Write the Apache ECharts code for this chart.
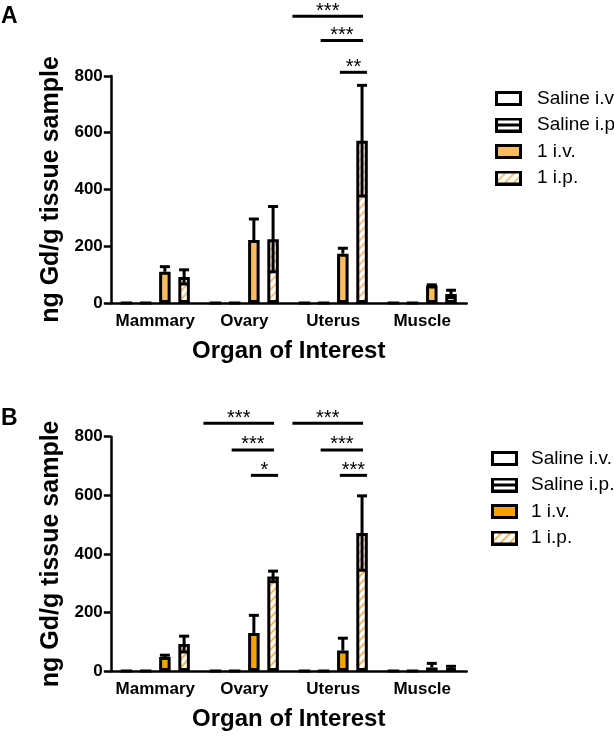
<!DOCTYPE html>
<html>
<head>
<meta charset="utf-8">
<script src="https://cdn.jsdelivr.net/npm/echarts@6/dist/echarts.min.js"></script>
<style>
html,body{margin:0;padding:0;background:#fff;}
#a,#b{width:614px;height:368px;}
</style>
</head>
<body>
<div id="a"></div>
<div id="b"></div>
<script>
// ---------- data ----------
const categories = ['Mammary', 'Ovary', 'Uterus', 'Muscle'];
const seriesNames = ['Saline i.v.', 'Saline i.p.', '1 i.v.', '1 i.p.'];
const yTicks = [0, 200, 400, 600, 800];
const xTitle = 'Organ of Interest';
const yTitle = 'ng Gd/g tissue sample';

// Panel A
const aSalineIV = [0, 0, 0, 0];
const aSalineIP = [0, 0, 0, 0];
const a1IV = [110, 222, 174, 62];
const a1IVErr = [18, 74, 19, 2];
const a1IP = [92, 225, 572, 32];
const a1IPErr = [25, 115, 195, 13];
// significance: [category, fromSeries, toSeries, height]
const aSig = [[2, 0, 3, 1011], [2, 1, 3, 925], [2, 2, 3, 813]];
const aSigLabels = ['***', '***', '**'];

// Panel B
const bSalineIV = [0, 0, 0, 0];
const bSalineIP = [0, 0, 0, 0];
const b1IV = [48, 130, 70, 12];
const b1IVErr = [6, 60, 42, 14];
const b1IP = [92, 323, 471, 10];
const b1IPErr = [27, 18, 127, 6];
const bSig = [[1, 0, 3, 846], [1, 1, 3, 755], [1, 2, 3, 668], [2, 0, 3, 846], [2, 1, 3, 755], [2, 2, 3, 668]];
const bSigLabels = ['***', '***', '*', '***', '***', '***'];

// ---------- styles ----------
const FONT = '"Liberation Sans", Arial, Helvetica, sans-serif';
const BAR_W = 11.5;
const BAR_GAP = 0.67;
const SPACING = BAR_W * (1 + BAR_GAP);

function hatchCanvas(color) {
  const c = document.createElement('canvas');
  c.width = 8; c.height = 8;
  const g = c.getContext('2d');
  g.fillStyle = '#fff'; g.fillRect(0, 0, 8, 8);
  g.strokeStyle = color; g.lineWidth = 2;
  g.beginPath();
  g.moveTo(-2, 10); g.lineTo(10, -2);
  g.moveTo(-6, 6); g.lineTo(6, -6);
  g.moveTo(2, 14); g.lineTo(14, 2);
  g.stroke();
  return c;
}

function iconURL(kind, fill, hatch) {
  const c = document.createElement('canvas');
  c.width = 27; c.height = 15;
  const g = c.getContext('2d');
  g.fillStyle = '#fff'; g.fillRect(0, 0, 27, 15);
  if (kind === 'solid') { g.fillStyle = fill; g.fillRect(0, 0, 27, 15); }
  if (kind === 'hatch') {
    g.strokeStyle = hatch; g.lineWidth = 2;
    g.beginPath();
    for (let x = -20; x < 40; x += 9) { g.moveTo(x, 15); g.lineTo(x + 15, 0); }
    g.stroke();
  }
  if (kind === 'stripe') { g.fillStyle = '#000'; g.fillRect(0, 6, 27, 3); }
  g.strokeStyle = '#000'; g.lineWidth = 3;
  g.strokeRect(1.5, 1.5, 24, 12);
  return 'image://' + c.toDataURL();
}

function buildOption(p) {
  const barColors = ['#ffffff', '#ffffff', p.fill, { image: hatchCanvas(p.hatch), repeat: 'repeat' }];
  const values = [p.salIV, p.salIP, p.iv, p.ip];
  const bars = values.map((v, i) => ({
    name: seriesNames[i],
    type: 'bar',
    barWidth: BAR_W,
    barGap: (BAR_GAP * 100) + '%',
    data: v,
    itemStyle: { color: barColors[i], borderColor: '#000', borderWidth: 3 },
    z: 2,
    animation: false
  }));
  const errData = [];
  categories.forEach((c, k) => {
    errData.push([k, p.iv[k], p.ivErr[k], 2, 0]);
    errData.push([k, p.ip[k], p.ipErr[k], 3, 1]);
  });
  const err = {
    type: 'custom',
    z: 5,
    animation: false,
    silent: true,
    data: errData,
    renderItem: function (params, api) {
      const cat = api.value(0), m = api.value(1), e = api.value(2), slot = api.value(3), both = api.value(4);
      const c = api.coord([cat, m]);
      const t = api.coord([cat, m + e]);
      const l = api.coord([cat, m - e]);
      const x = c[0] + (slot - 1.5) * SPACING;
      const style = { stroke: '#000', lineWidth: 3 };
      const kids = [
        { type: 'line', shape: { x1: x, y1: both ? l[1] : c[1], x2: x, y2: t[1] }, style },
        { type: 'line', shape: { x1: x - 5, y1: t[1], x2: x + 5, y2: t[1] }, style }
      ];
      if (both) kids.push({ type: 'line', shape: { x1: x - 5, y1: l[1], x2: x + 5, y2: l[1] }, style });
      return { type: 'group', children: kids };
    }
  };
  const sig = {
    type: 'custom',
    z: 5,
    animation: false,
    silent: true,
    clip: false,
    data: p.sig,
    renderItem: function (params, api) {
      const cat = api.value(0), from = api.value(1), to = api.value(2), h = api.value(3);
      const c = api.coord([cat, h]);
      const xf = c[0] + (from - 1.5) * SPACING - (from === 0 ? 12 : 3);
      const xt = c[0] + (to - 1.5) * SPACING + (from === 2 ? 5 : 1);
      return {
        type: 'group',
        children: [
          { type: 'line', shape: { x1: xf, y1: c[1], x2: xt, y2: c[1] }, style: { stroke: '#000', lineWidth: 3 } },
          { type: 'text', style: { text: p.sigLabels[params.dataIndex], x: (xf + xt) / 2, y: c[1] - 5, align: 'center', verticalAlign: 'middle', font: '20px ' + FONT, fill: '#000' } }
        ]
      };
    }
  };
  const icons = [iconURL('empty'), iconURL('stripe'), iconURL('solid', p.fill), iconURL('hatch', null, p.hatch)];
  return {
    animation: false,
    backgroundColor: '#fff',
    textStyle: { fontFamily: FONT },
    graphic: [{ type: 'text', left: 1, top: p.letterTop, style: { text: p.letter, font: 'bold 23px ' + FONT, fill: '#000' } }],
    legend: {
      orient: 'vertical',
      left: p.legLeft,
      top: p.legTop,
      itemWidth: 27,
      itemHeight: 15,
      itemGap: 7.5,
      selectedMode: false,
      data: seriesNames.map((n, i) => ({ name: n, icon: icons[i] })),
      textStyle: { fontSize: 19, color: '#000', fontFamily: FONT, padding: [0, 0, 0, p.legTextPad] }
    },
    grid: { left: 110.8, top: p.gridTop, width: 355.9, height: 236.4 },
    xAxis: {
      type: 'category',
      data: categories,
      name: xTitle,
      nameLocation: 'middle',
      nameGap: 36,
      nameTextStyle: { fontSize: 24, fontWeight: 'bold', color: '#000', fontFamily: FONT },
      axisLine: { lineStyle: { color: '#000', width: 2.5 } },
      axisTick: { alignWithLabel: true, length: 7, lineStyle: { color: '#000', width: 2.5 } },
      axisLabel: { interval: 0, fontSize: 17, fontWeight: 'bold', color: '#000', margin: 10, fontFamily: FONT }
    },
    yAxis: {
      type: 'value',
      min: yTicks[0],
      max: yTicks[yTicks.length - 1],
      interval: yTicks[1] - yTicks[0],
      name: yTitle,
      nameLocation: 'middle',
      nameGap: 46,
      nameRotate: 90,
      nameTextStyle: { fontSize: 25, fontWeight: 'bold', color: '#000', fontFamily: FONT },
      axisLine: { show: true, lineStyle: { color: '#000', width: 2.5 } },
      axisTick: { show: true, length: 7, lineStyle: { color: '#000', width: 2.5 } },
      splitLine: { show: false },
      axisLabel: { fontSize: 17, fontWeight: 'bold', color: '#000', margin: 8, fontFamily: FONT }
    },
    series: bars.concat([err, sig])
  };
}

const chartA = echarts.init(document.getElementById('a'), null, { renderer: 'canvas' });
chartA.setOption(buildOption({
  letter: 'A', letterTop: 5,
  fill: '#F9BC60', hatch: '#F7C47E',
  salIV: aSalineIV, salIP: aSalineIP, iv: a1IV, ivErr: a1IVErr, ip: a1IP, ipErr: a1IPErr,
  sig: aSig, sigLabels: aSigLabels,
  gridTop: 76, legLeft: 490, legTop: 84, legTextPad: 10
}));
const chartB = echarts.init(document.getElementById('b'), null, { renderer: 'canvas' });
chartB.setOption(buildOption({
  letter: 'B', letterTop: 39,
  fill: '#F6A300', hatch: '#F5B85E',
  salIV: bSalineIV, salIP: bSalineIP, iv: b1IV, ivErr: b1IVErr, ip: b1IP, ipErr: b1IPErr,
  sig: bSig, sigLabels: bSigLabels,
  gridTop: 68.7, legLeft: 486, legTop: 76, legTextPad: 8
}));
</script>
</body>
</html>
